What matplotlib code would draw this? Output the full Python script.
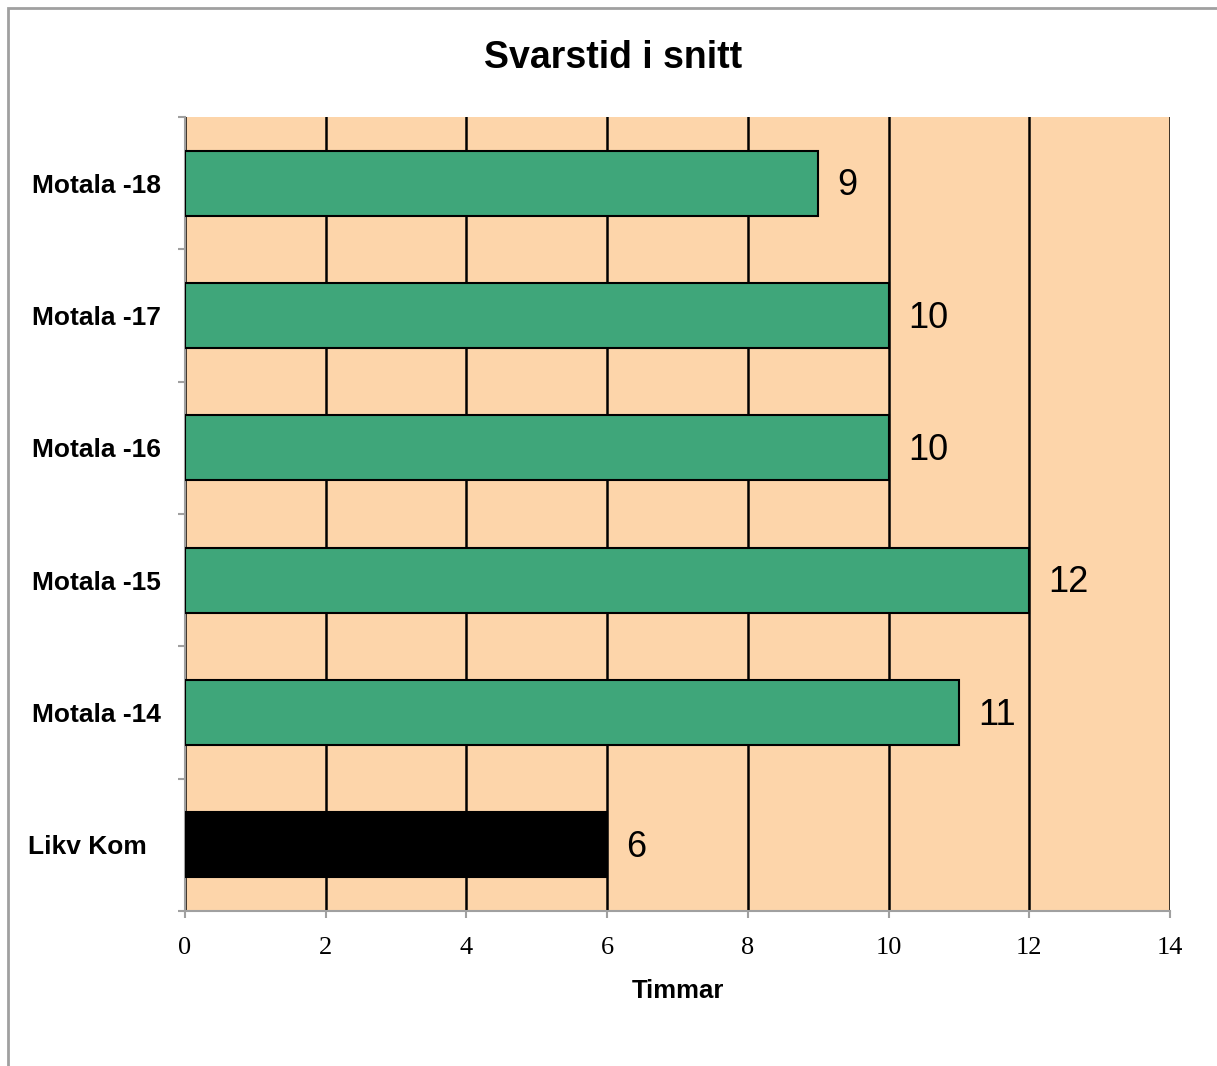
import matplotlib
matplotlib.use("Agg")
import matplotlib.pyplot as plt
from matplotlib.patches import Rectangle

# data, bottom to top
categories = ['Likv Kom', 'Motala -14', 'Motala -15', 'Motala -16', 'Motala -17', 'Motala -18']
values = [6, 11, 12, 10, 10, 9]
bar_colors = ['#000000', '#3FA67A', '#3FA67A', '#3FA67A', '#3FA67A', '#3FA67A']
x_ticks = [0, 2, 4, 6, 8, 10, 12, 14]

plt.rcParams['font.family'] = ['Liberation Sans', 'DejaVu Sans']

fig = plt.figure(figsize=(12.17, 10.66), dpi=100)
ax = fig.add_axes([185 / 1217, 1 - 911 / 1066, 985 / 1217, 794 / 1066])

ax.set_facecolor('#FDD5AA')
ypos = list(range(len(categories)))
ax.barh(ypos, values, height=0.49, color=bar_colors, edgecolor='black', linewidth=1.5, zorder=3)

ax.set_xlim(0, 14)
ax.set_ylim(-0.5, len(categories) - 0.5)

# vertical grid
ax.set_xticks(x_ticks)
ax.xaxis.grid(True, color='black', linewidth=1.8)
ax.set_axisbelow(True)

# y ticks on category boundaries, labels drawn as text
ax.set_yticks([i - 0.5 for i in range(len(categories) + 1)])
ax.set_yticklabels([])
for i, cat in enumerate(categories):
    off = -0.039 if cat == 'Likv Kom' else -0.024
    ax.text(off, i - 0.02, cat, transform=ax.get_yaxis_transform(), ha='right', va='center',
            fontsize=19, fontweight='bold')

# value labels
for i, v in enumerate(values):
    ax.annotate(str(v), (v, i - 0.02), xytext=(14, 0), textcoords='offset points',
                ha='left', va='center', fontsize=26)

for s in ['top', 'right']:
    ax.spines[s].set_visible(False)
for s in ['left', 'bottom']:
    ax.spines[s].set_color('#A0A0A0')
    ax.spines[s].set_linewidth(1.5)
ax.tick_params(axis='both', direction='out', length=5, width=1.5, color='#A0A0A0')
for lbl in ax.get_xticklabels():
    lbl.set_family(['Liberation Serif', 'DejaVu Serif'])
    lbl.set_fontsize(19)
ax.tick_params(axis='x', pad=14)

ax.set_xlabel('Timmar', fontsize=18.5, fontweight='bold', labelpad=14)

fig.text(613 / 1217, 1 - 58 / 1066, 'Svarstid i snitt', ha='center', va='center',
         fontsize=27, fontweight='bold')

# outer chart border
fig.patches.append(Rectangle((8 / 1217, -0.1), 1.2, 0.1 + 1 - 8 / 1066, transform=fig.transFigure,
                             fill=False, edgecolor='#A0A0A0', linewidth=2, clip_on=False))

fig.savefig('out.png', dpi=100)
